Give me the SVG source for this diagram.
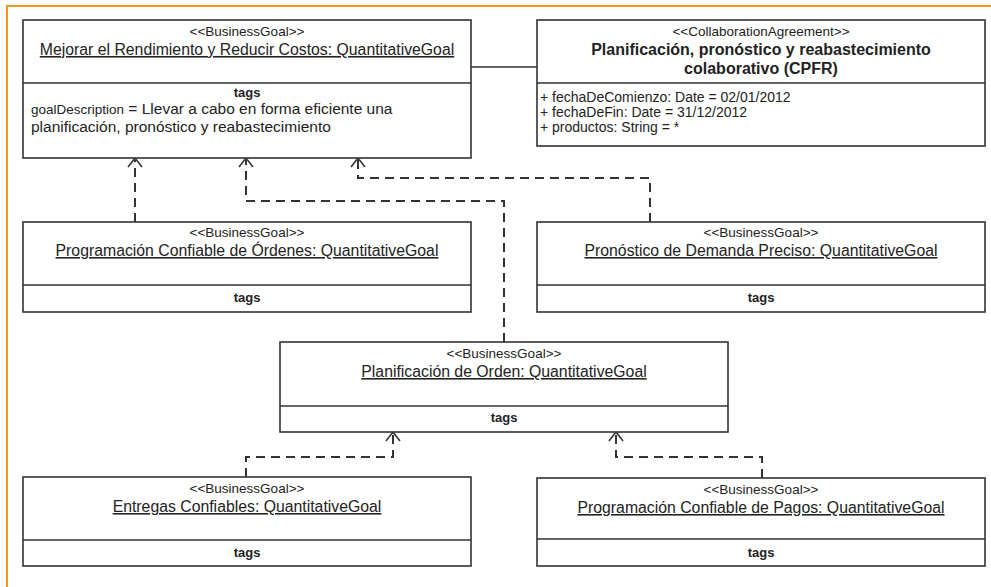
<svg xmlns="http://www.w3.org/2000/svg" width="991" height="587" viewBox="0 0 991 587">
<style>
.box{fill:#fff;stroke:#333;stroke-width:1.6}
.div{stroke:#333;stroke-width:1.6}
text{font-family:"Liberation Sans",Arial,sans-serif;fill:#222}
.st{font-size:13.5px;text-anchor:middle}
.nm{font-size:15.8px;text-anchor:middle;text-decoration:underline}
.tg{font-size:13px;font-weight:bold;text-anchor:middle}
.ti{font-size:16px;font-weight:bold;text-anchor:middle}
.at{font-size:14px}
.dep{fill:none;stroke:#333;stroke-width:2;stroke-dasharray:9,6}
.ah{fill:none;stroke:#333;stroke-width:1.6}
.assoc{stroke:#333;stroke-width:1.6}
</style>
<rect width="991" height="587" fill="#fff"/>
<path d="M7,587 V6 H991" fill="none" stroke="#f7941d" stroke-width="2"/>

<g id="connectors">
<line class="assoc" x1="471" y1="67" x2="537" y2="67"/>
<path class="dep" d="M135,222 V160"/>
<path class="dep" d="M504,342 V201 H246 V160"/>
<path class="dep" d="M650,222 V178 H358 V160"/>
<path class="dep" d="M246,477 V457 H393 V434"/>
<path class="dep" d="M762,478 V457 H616 V434"/>
<path class="ah" d="M128,167 L135,158 L142,167"/>
<path class="ah" d="M239,167 L246,158 L253,167"/>
<path class="ah" d="M351,167 L358,158 L365,167"/>
<path class="ah" d="M386,441 L393,432 L400,441"/>
<path class="ah" d="M609,441 L616,432 L623,441"/>
</g>

<g id="mejorar">
<rect class="box" x="23" y="20" width="448" height="138"/>
<line class="div" x1="23" y1="83" x2="471" y2="83"/>
<text class="st" x="247" y="36">&lt;&lt;BusinessGoal&gt;&gt;</text>
<text class="nm" x="247" y="55">Mejorar el Rendimiento y Reducir Costos: QuantitativeGoal</text>
<text class="tg" x="247" y="97">tags</text>
<text x="31" y="114" style="font-size:15.5px"><tspan style="font-size:13.5px">goalDescription</tspan> = Llevar a cabo en forma eficiente una</text>
<text x="31" y="132" style="font-size:15.5px">planificación, pronóstico y reabastecimiento</text>
</g>

<g id="cpfr">
<rect class="box" x="537" y="20" width="448" height="126"/>
<line class="div" x1="537" y1="83" x2="985" y2="83"/>
<text class="st" x="761" y="36">&lt;&lt;CollaborationAgreement&gt;&gt;</text>
<text class="ti" x="761" y="55">Planificación, pronóstico y reabastecimiento</text>
<text class="ti" x="761" y="74">colaborativo (CPFR)</text>
<text class="at" x="540" y="102">+ fechaDeComienzo: Date = 02/01/2012</text>
<text class="at" x="540" y="117">+ fechaDeFin: Date = 31/12/2012</text>
<text class="at" x="540" y="132">+ productos: String = *</text>
</g>

<g id="ordenes">
<rect class="box" x="23" y="222" width="448" height="90"/>
<line class="div" x1="23" y1="285" x2="471" y2="285"/>
<text class="st" x="247" y="237">&lt;&lt;BusinessGoal&gt;&gt;</text>
<text class="nm" x="247" y="256">Programación Confiable de Órdenes: QuantitativeGoal</text>
<text class="tg" x="247" y="302">tags</text>
</g>

<g id="pronostico">
<rect class="box" x="537" y="222" width="448" height="90"/>
<line class="div" x1="537" y1="285" x2="985" y2="285"/>
<text class="st" x="761" y="237">&lt;&lt;BusinessGoal&gt;&gt;</text>
<text class="nm" x="761" y="256">Pronóstico de Demanda Preciso: QuantitativeGoal</text>
<text class="tg" x="761" y="302">tags</text>
</g>

<g id="planificacion">
<rect class="box" x="280" y="342" width="448" height="90"/>
<line class="div" x1="280" y1="406" x2="728" y2="406"/>
<text class="st" x="504" y="358">&lt;&lt;BusinessGoal&gt;&gt;</text>
<text class="nm" x="504" y="377">Planificación de Orden: QuantitativeGoal</text>
<text class="tg" x="504" y="422">tags</text>
</g>

<g id="entregas">
<rect class="box" x="23" y="477" width="448" height="89"/>
<line class="div" x1="23" y1="540" x2="471" y2="540"/>
<text class="st" x="247" y="493">&lt;&lt;BusinessGoal&gt;&gt;</text>
<text class="nm" x="247" y="512">Entregas Confiables: QuantitativeGoal</text>
<text class="tg" x="247" y="557">tags</text>
</g>

<g id="pagos">
<rect class="box" x="537" y="478" width="448" height="88"/>
<line class="div" x1="537" y1="539" x2="985" y2="539"/>
<text class="st" x="761" y="494">&lt;&lt;BusinessGoal&gt;&gt;</text>
<text class="nm" x="761" y="513">Programación Confiable de Pagos: QuantitativeGoal</text>
<text class="tg" x="761" y="557">tags</text>
</g>
</svg>
